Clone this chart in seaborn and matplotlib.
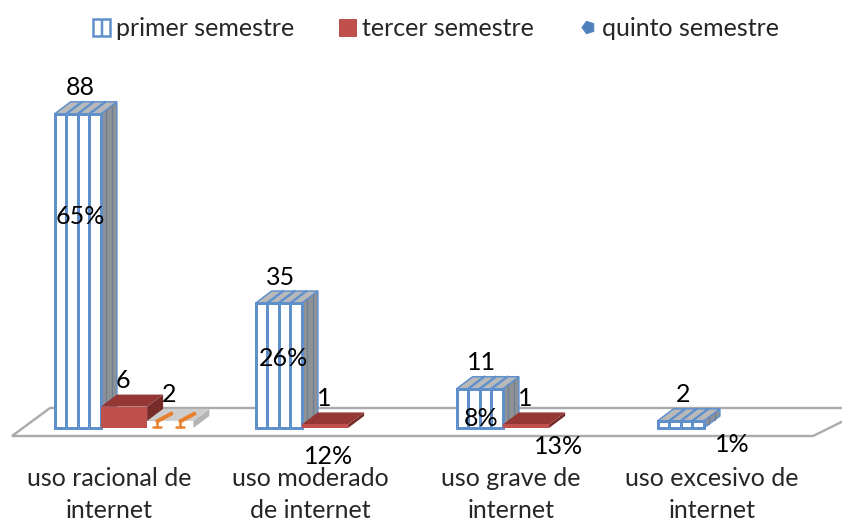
import pandas as pd
import seaborn as sns
import matplotlib.pyplot as plt
from matplotlib.lines import Line2D
from matplotlib.patches import Patch, Polygon
from matplotlib.transforms import ScaledTranslation

# data
categories = ['uso racional de\ninternet', 'uso moderado\nde internet', 'uso grave de\ninternet', 'uso excesivo de\ninternet']
series_names = ['primer semestre', 'tercer semestre', 'quinto semestre']
primer = [88, 35, 11, 2]
tercer = [6, 1, 1, 0]
quinto = [2, 0, 0, 0]
percent_labels = ['65%', '26%', '8%', '12%', '13%', '1%']

# where the percent labels sit, in picture pixels
percent_px = [(80, 217), (284, 358), (481, 419), (329, 457), (559, 447), (732, 444)]

W, H = 842, 523
PX_X = 201.0   # pixels per category
PX_Y = 3.57    # pixels per unit
BASE = 428     # pixel row of value 0
BOTTOM = 460   # pixel row of the axes bottom
DX, DY = 16 / PX_X, 12 / PX_Y  # depth of the fake 3d bars
FS = 25

BLUE = '#5F90CC'
RED = '#C0504D'
ORANGE = '#E8812F'

df = pd.DataFrame({'cat': categories * 3,
                   'serie': [s for s in series_names for _ in categories],
                   'valor': primer + tercer + quinto})

sns.set_style('white')
plt.rcParams['font.family'] = ['Lato', 'DejaVu Sans']
plt.rcParams['hatch.linewidth'] = 2.5

fig = plt.figure(figsize=(W / 72, H / 72), dpi=72)
ax = fig.add_axes([0, 1 - BOTTOM / H, 1, BOTTOM / H])

sns.barplot(data=df, x='cat', y='valor', hue='serie', hue_order=series_names, order=categories,
            palette=['white', RED, 'white'], saturation=1, width=0.69, gap=0, legend=False, ax=ax, zorder=3)

ax.set_xlim(-124 / PX_X, (W - 124) / PX_X)
ax.set_ylim(-(BOTTOM - BASE) / PX_Y, BASE / PX_Y)
sns.despine(ax=ax, left=True, bottom=True)
ax.set_xlabel('')
ax.set_ylabel('')
ax.set_yticks([])
ax.set_xticks(range(len(categories)))
ax.set_xticklabels(categories, linespacing=1.48)
ax.tick_params(axis='x', length=0, pad=7, labelsize=FS)
for label in ax.get_xticklabels():
    label.set_transform(label.get_transform() + ScaledTranslation(-15 / 72, 0, fig.dpi_scale_trans))


def to_x(px):
    return ax.get_xlim()[0] + px / PX_X


def to_y(py):
    return (BASE - py) / PX_Y


# floor of the 3d chart
ax.add_patch(Polygon([(to_x(12), to_y(436)), (to_x(50), to_y(408)), (to_x(870), to_y(408)), (to_x(813), to_y(436))],
                     closed=True, facecolor='white', edgecolor='#ABABAB', lw=2.4, zorder=1, clip_on=True))


def box_faces(x0, x1, top, top_color, side_color, edge, z):
    top_face = [(x0, top), (x0 + DX, top + DY), (x1 + DX, top + DY), (x1, top)]
    side_face = [(x1, 0), (x1 + DX, DY), (x1 + DX, top + DY), (x1, top)]
    ax.add_patch(Polygon(side_face, facecolor=side_color, edgecolor=edge, lw=1.5, zorder=z))
    ax.add_patch(Polygon(top_face, facecolor=top_color, edgecolor=edge, lw=1.5, zorder=z))


for i, container in enumerate(ax.containers):
    for bar in container:
        top = bar.get_height()
        x0, x1 = bar.get_x(), bar.get_x() + bar.get_width()
        if top == 0:
            bar.set_visible(False)
            continue
        z = 3 + i
        bar.set_zorder(z + 0.5)
        if i == 0:
            bar.set_edgecolor(BLUE)
            bar.set_linewidth(3)
            box_faces(x0, x1, top, '#B9B9B9', '#8E9196', BLUE, z)
            # stripes on the three visible faces
            for k in (1, 2, 3):
                xs = x0 + (x1 - x0) * k / 4
                ax.plot([xs, xs], [0, top], color=BLUE, lw=3, zorder=z + 0.6)
                ax.plot([xs, xs + DX], [top, top + DY], color=BLUE, lw=2.4, zorder=z + 0.6)
            for k in (1, 2):
                xs = x1 + DX * k / 3
                ax.plot([xs, xs], [DY * k / 3, top + DY * k / 3], color='#6E7F93', lw=1.2, zorder=z + 0.6)
        elif i == 1:
            bar.set_linewidth(0)
            box_faces(x0, x1, top, '#953735', '#772C2A', 'none', z)
        else:
            bar.set_linewidth(0)
            box_faces(x0, x1, top, '#CDCDCD', '#B5B5B5', 'none', z)
            for k in (0.22, 0.72):
                xs = x0 + (x1 - x0) * k
                ax.plot([xs, xs], [0.2, top * 0.9], color=ORANGE, lw=2.5, zorder=z + 0.6)
                ax.plot([xs - 0.02, xs + 0.02], [0.2, 0.2], color=ORANGE, lw=2.5, zorder=z + 0.6)
                ax.plot([xs, xs + 0.07], [top * 0.95, top + DY * 0.6], color=ORANGE, lw=4, zorder=z + 0.6)
        # value label, 26 px above the front top of the bar
        ax.annotate(f'{top:.0f}', (bar.get_x() + bar.get_width() / 2, top), xytext=(2 if i == 0 else -1, 26),
                    textcoords='offset points', ha='center', va='center', fontsize=FS, color='black', zorder=10)

for text, (px, py) in zip(percent_labels, percent_px):
    fig.text(px / W, 1 - py / H, text, ha='center', va='center', fontsize=FS, color='black', zorder=20)

handles = [Patch(facecolor='white', edgecolor=BLUE, hatch='|', lw=2.5),
           Patch(facecolor=RED, edgecolor=RED),
           Line2D([], [], color='none', marker=(5, 0, 90), markersize=13, markerfacecolor='#4F81BD',
                  markeredgecolor='#4F81BD')]
fig.legend(handles, series_names, loc='upper left', bbox_to_anchor=(73 / W, 1 + 3 / H), ncol=3, frameon=False,
           fontsize=FS, handlelength=0.68, handleheight=0.68, handletextpad=0.24, columnspacing=1.8, borderpad=0.3)

plt.savefig('out.png', dpi=72)
